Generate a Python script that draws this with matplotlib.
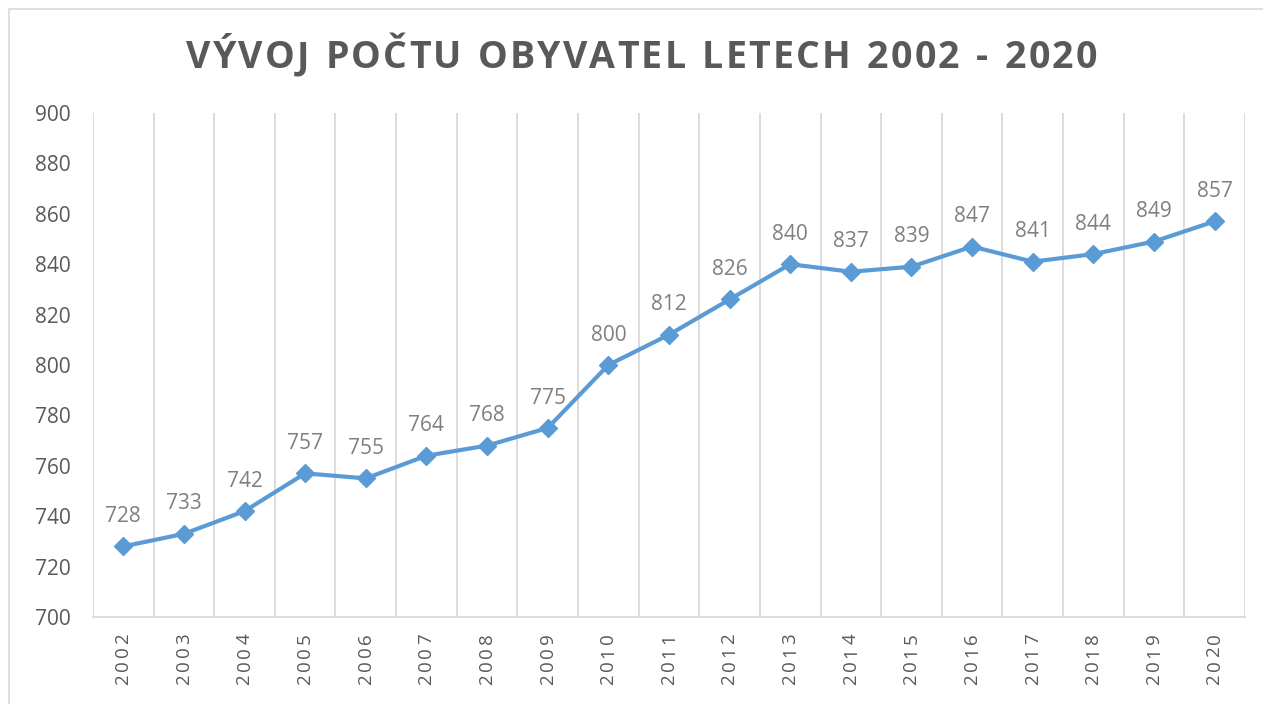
import matplotlib.pyplot as plt
from matplotlib.patches import Rectangle

years = [str(y) for y in range(2002, 2021)]
population = [728, 733, 742, 757, 755, 764, 768, 775, 800, 812,
              826, 840, 837, 839, 847, 841, 844, 849, 857]
y_ticks = list(range(700, 901, 20))

title = "VÝVOJ POČTU OBYVATEL LETECH 2002 - 2020"

plt.rcParams['font.family'] = ['Open Sans', 'DejaVu Sans']

W, H = 1263, 704
fig = plt.figure(figsize=(W / 100, H / 100), dpi=100)
ax = fig.add_axes([0.0736, 0.1236, 0.9121, 0.7159])
renderer = fig.canvas.get_renderer()


def char_widths(s, **kw):
    out = []
    for c in s:
        t = fig.text(0, 0, c, **kw)
        if c == ' ':
            t.set_text('n')
            w = t.get_window_extent(renderer).width * 0.5
        else:
            w = t.get_window_extent(renderer).width
        t.remove()
        out.append(w)
    return out


def spaced_text(cx, cy, s, total, vertical=False, **kw):
    # draw text letter by letter (in pixels) so that it spans `total` pixels
    ws = char_widths(s, **kw)
    gap = (total - sum(ws)) / max(len(s) - 1, 1)
    pos = -total / 2
    for c, w in zip(s, ws):
        if vertical:
            fig.text(cx / W, (cy + pos + w / 2) / H, c, rotation=90,
                     ha='center', va='center', **kw)
        else:
            fig.text((cx + pos + w / 2) / W, cy / H, c,
                     ha='center', va='center', **kw)
        pos += w + gap


# outer chart border like in Excel
fig.patches.append(Rectangle((9 / W, -0.05), 1.2, (H - 9) / H + 0.05,
                             transform=fig.transFigure, fill=False,
                             edgecolor='#d9d9d9', linewidth=1.2))

x = list(range(len(years)))
ax.plot(x, population, color='#5b9bd5', linewidth=3, marker='D',
        markersize=9, zorder=3)

for xi, v in zip(x, population):
    ax.annotate(str(v), (xi, v), xytext=(0, 14), textcoords='offset points',
                ha='center', va='bottom', fontsize=15, color='#7f7f7f')

ax.set_xlim(-0.5, len(years) - 0.5)
ax.set_ylim(700, 900)
ax.set_yticks(y_ticks)
ax.set_xticks(x)
ax.set_xticklabels([])
ax.tick_params(axis='y', length=0, pad=16, labelsize=15, labelcolor='#595959')
ax.tick_params(axis='x', length=0)

# vertical gridlines at category boundaries
for b in range(len(years) + 1):
    ax.axvline(b - 0.5, color='#d9d9d9', linewidth=1.3, zorder=1)

for s in ['top', 'right', 'left']:
    ax.spines[s].set_visible(False)
ax.spines['bottom'].set_color('#d9d9d9')
ax.spines['bottom'].set_linewidth(1.3)

# category labels, rotated, with some tracking
for xi, lab in zip(x, years):
    px = ax.transData.transform((xi, 700))[0]
    spaced_text(px, H - 659, lab, 52, vertical=True,
                fontsize=13.5, color='#595959')

spaced_text(W / 2 + 10, H - 58, title, 911, fontsize=27,
            fontweight='bold', color='#595959')

fig.savefig("out.png", dpi=100)
